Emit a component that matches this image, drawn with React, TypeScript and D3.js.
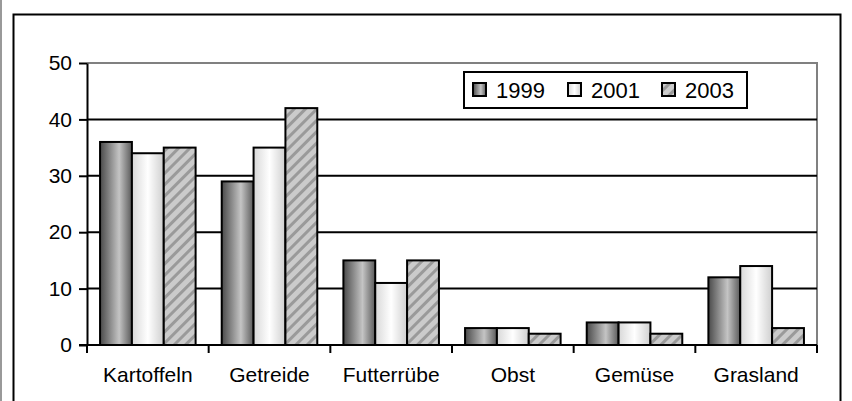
import React, { useEffect, useRef } from 'react';
import * as d3 from 'd3';

const categories = ['Kartoffeln', 'Getreide', 'Futterrübe', 'Obst', 'Gemüse', 'Grasland'];
const seriesNames = ['1999', '2001', '2003'];
const values1999 = [36, 29, 15, 3, 4, 12];
const values2001 = [34, 35, 11, 3, 4, 14];
const values2003 = [35, 42, 15, 2, 2, 3];
const yTicks = [0, 10, 20, 30, 40, 50];

export default function App() {
  const ref = useRef<SVGSVGElement>(null);

  useEffect(() => {
    const svg = d3.select(ref.current);
    svg.selectAll('*').remove();

    const W = 852, H = 401;
    const left = 87, right = 817, top = 63, bottom = 345;
    const font = 'Liberation Sans, Arial, sans-serif';

    const defs = svg.append('defs');
    // dark gradient for 1999
    const g1 = defs.append('linearGradient').attr('id', 'g1999').attr('x1', '0%').attr('x2', '100%');
    g1.append('stop').attr('offset', '0%').attr('stop-color', '#4a4a4a');
    g1.append('stop').attr('offset', '60%').attr('stop-color', '#c4c4c4');
    g1.append('stop').attr('offset', '100%').attr('stop-color', '#5a5a5a');
    // light gradient for 2001
    const g2 = defs.append('linearGradient').attr('id', 'g2001').attr('x1', '0%').attr('x2', '100%');
    g2.append('stop').attr('offset', '0%').attr('stop-color', '#d8d8d8');
    g2.append('stop').attr('offset', '50%').attr('stop-color', '#ffffff');
    g2.append('stop').attr('offset', '100%').attr('stop-color', '#cfcfcf');
    // hatch for 2003
    const p = defs.append('pattern').attr('id', 'h2003').attr('patternUnits', 'userSpaceOnUse')
      .attr('width', 8).attr('height', 8).attr('patternTransform', 'rotate(-45)');
    p.append('rect').attr('width', 8).attr('height', 8).attr('fill', '#cbcbcb');
    p.append('rect').attr('width', 8).attr('height', 3).attr('fill', '#9a9a9a');

    const fills = ['url(#g1999)', 'url(#g2001)', 'url(#h2003)'];
    const data = [values1999, values2001, values2003];

    svg.append('rect').attr('width', W).attr('height', H).attr('fill', '#fff');
    svg.append('line').attr('x1', 1).attr('x2', 1).attr('y1', 0).attr('y2', H)
      .attr('stroke', '#999').attr('stroke-width', 2);
    svg.append('rect').attr('x', 13.5).attr('y', 14.5).attr('width', 827).attr('height', 420)
      .attr('fill', 'none').attr('stroke', '#000').attr('stroke-width', 2);

    const y = d3.scaleLinear().domain([0, 50]).range([bottom, top]);
    const x0 = d3.scaleBand().domain(categories).range([left, right]);
    const x1 = d3.scaleBand().domain(seriesNames).range([0, x0.bandwidth()]).paddingOuter(0.41).paddingInner(0);

    // plot area border (gray) top and right
    svg.append('path')
      .attr('d', `M${left},${top}H${right}V${bottom}`)
      .attr('fill', 'none').attr('stroke', '#808080').attr('stroke-width', 2);

    // grid lines
    svg.append('g').selectAll('line').data(yTicks.filter(t => t > 0 && t < 50)).enter().append('line')
      .attr('x1', left).attr('x2', right)
      .attr('y1', d => y(d)).attr('y2', d => y(d))
      .attr('stroke', '#000').attr('stroke-width', 2);

    // bars
    const groups = svg.append('g').selectAll('g').data(categories).enter().append('g')
      .attr('transform', c => `translate(${x0(c)},0)`);
    groups.selectAll('rect')
      .data((c, i) => seriesNames.map((s, k) => ({ s, v: data[k][i], k })))
      .enter().append('rect')
      .attr('x', d => x1(d.s)!)
      .attr('width', x1.bandwidth())
      .attr('y', d => y(d.v))
      .attr('height', d => bottom - y(d.v))
      .attr('fill', d => fills[d.k])
      .attr('stroke', '#000').attr('stroke-width', 2);

    // y axis
    const yAxis = svg.append('g').attr('transform', `translate(${left},0)`)
      .call(d3.axisLeft(y).tickValues(yTicks).tickSize(8).tickSizeOuter(0).tickPadding(7));
    yAxis.attr('font-size', null).attr('font-family', null);
    yAxis.select('.domain').attr('stroke-width', 2);
    yAxis.selectAll('line').attr('stroke-width', 2);
    yAxis.selectAll('text').attr('font-family', font).attr('font-size', 21).attr('fill', '#000');

    // x axis
    const xAxis = svg.append('g').attr('transform', `translate(0,${bottom})`);
    xAxis.append('line').attr('x1', left - 8).attr('x2', right).attr('stroke', '#000').attr('stroke-width', 2);
    const bounds = categories.map(c => x0(c)!).concat([right]);
    xAxis.selectAll('line.tk').data(bounds).enter().append('line').attr('class', 'tk')
      .attr('x1', d => d).attr('x2', d => d).attr('y1', 0).attr('y2', 8)
      .attr('stroke', '#000').attr('stroke-width', 2);
    xAxis.selectAll('text').data(categories).enter().append('text')
      .attr('x', c => x0(c)! + x0.bandwidth() / 2).attr('y', 37)
      .attr('text-anchor', 'middle').attr('font-family', font).attr('font-size', 21)
      .text(c => c);

    // legend
    const lg = svg.append('g').attr('transform', 'translate(464,72)');
    lg.append('rect').attr('width', 283).attr('height', 36).attr('fill', '#fff')
      .attr('stroke', '#000').attr('stroke-width', 2);
    const lx = [9, 104, 198];
    seriesNames.forEach((s, k) => {
      lg.append('rect').attr('x', lx[k]).attr('y', 11).attr('width', 13).attr('height', 13)
        .attr('fill', fills[k]).attr('stroke', '#000').attr('stroke-width', 2);
      lg.append('text').attr('x', lx[k] + 23).attr('y', 26).attr('font-family', font)
        .attr('font-size', 22).text(s);
    });
  }, []);

  return (
    <svg ref={ref} width={852} height={401}
      style={{ position: 'absolute', left: 0, top: 0, display: 'block' }} />
  );
}
